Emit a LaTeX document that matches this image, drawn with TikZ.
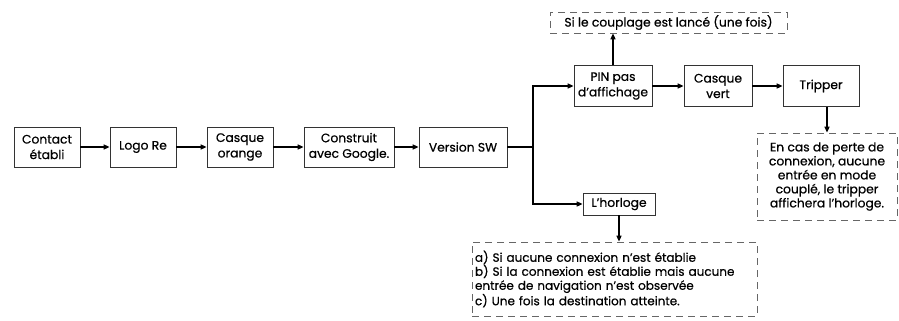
\documentclass[tikz,border=0pt]{standalone}
\usepackage{fontspec}
\setmainfont{Poppins}[FakeBold=0.6]
\usetikzlibrary{arrows.meta}
\begin{document}
\begin{tikzpicture}[x=1pt,y=-1pt,
  box/.style={draw=black!80,line width=0.7pt,minimum height=40pt,inner sep=0.5pt,align=center,font=\fontsize{12.3}{15.5}\selectfont},
  dbox/.style={draw=black!60,dash pattern=on 7pt off 5pt,line width=0.7pt,inner sep=1.5pt,align=center,font=\fontsize{12.3}{14}\selectfont},
  conn/.style={line width=1.4pt,-{Triangle[length=6pt,width=5pt]}},
  plain/.style={line width=1.4pt}]
\useasboundingbox (0,0) rectangle (899,321);
\node[box,minimum width=66pt] (contact) at (47,147) {Contact\\établi};
\node[box,minimum width=66pt] (logo) at (143,147) {Logo Re};
\node[box,minimum width=66pt] (orange) at (240,147) {Casque\\orange};
\node[box,minimum width=90pt] (google) at (349,147) {Construit\\avec Google.};
\node[box,minimum width=88pt] (sw) at (463,147) {Version SW};
\node[box,minimum width=78pt,minimum height=41pt] (pin) at (613,86) {PIN pas\\d’affichage};
\node[box,minimum width=68pt,minimum height=41pt] (vert) at (718,86) {Casque\\vert};
\node[box,minimum width=76pt,minimum height=41pt] (trip) at (821,86) {Tripper};
\node[box,minimum width=72pt,minimum height=22pt] (horl) at (619,204) {L’horloge};
\node[dbox,minimum width=237pt,minimum height=21pt] (couple) at (668.5,22.5) {Si le couplage est lancé (une fois)};
\node[dbox,minimum width=140pt,minimum height=87pt] (perte) at (827,176.5) {En cas de perte de\\connexion, aucune\\entrée en mode\\couplé, le tripper\\affichera l’horloge.};
\node[dbox,minimum width=285pt,minimum height=74pt,align=left,inner xsep=3pt,text width=279pt,font=\fontsize{12}{14}\selectfont] (cases) at (614.5,279) {a) Si aucune connexion n’est établie\\b) Si la connexion est établie mais aucune\\entrée de navigation n’est observée\\c) Une fois la destination atteinte.};
\coordinate (j) at (533,147);
\draw[conn] (contact) -- (logo);
\draw[conn] (logo) -- (orange);
\draw[conn] (orange) -- (google);
\draw[conn] (google) -- (sw);
\draw[plain] (sw) -- (j);
\draw[conn] (j) |- (pin);
\draw[conn] (j) |- (horl);
\draw[conn] (pin) -- (couple.south -| pin);
\draw[conn] (pin) -- (vert);
\draw[conn] (vert) -- (trip);
\draw[conn] (trip.south -| perte) -- (perte);
\draw[conn] (horl) -- (cases.north -| horl);
\end{tikzpicture}
\end{document}
